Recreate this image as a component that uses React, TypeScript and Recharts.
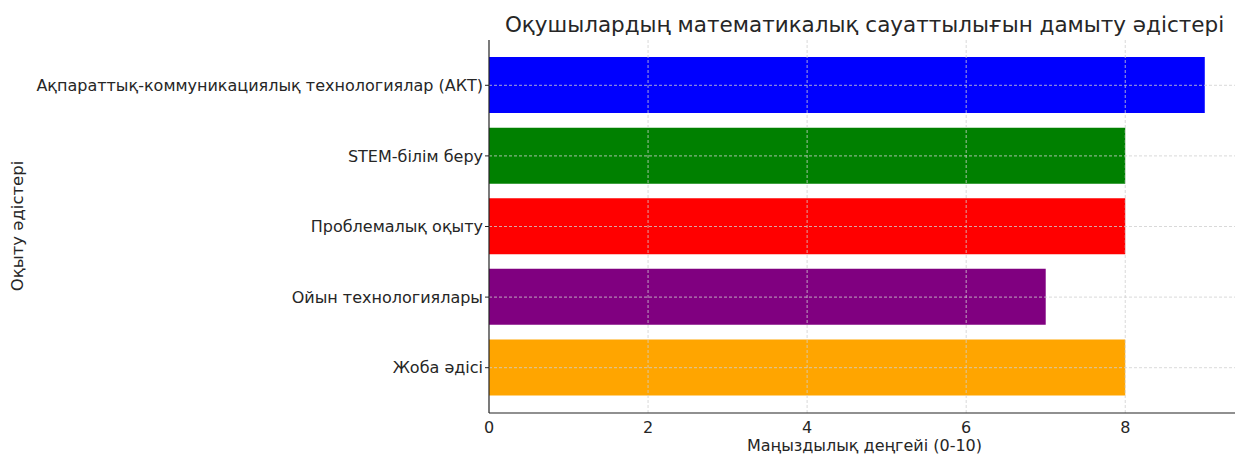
import React from 'react';
import { BarChart, Bar, XAxis, YAxis, Cell, ReferenceLine } from 'recharts';

const categories = [
  'Ақпараттық-коммуникациялық технологиялар (АКТ)',
  'STEM-білім беру',
  'Проблемалық оқыту',
  'Ойын технологиялары',
  'Жоба әдісі',
];
const values = [9, 8, 8, 7, 8];
const colors = ['#0000ff', '#008000', '#ff0000', '#800080', '#ffa500'];
const xTicks = [0, 2, 4, 6, 8];
const title = 'Оқушылардың математикалық сауаттылығын дамыту әдістері';
const xLabel = 'Маңыздылық деңгейі (0-10)';
const yLabel = 'Оқыту әдістері';

const data = categories.map((name, i) => ({ name, value: values[i] }));

const FONT = '"DejaVu Sans", sans-serif';
const TEXT = '#262626';
const GRID = '#cfcfcf';

export default function App() {
  return (
    <div style={{ position: 'fixed', left: 0, top: 0, width: 1235, height: 457, background: '#fff', fontFamily: FONT, overflow: 'hidden' }}>
      <div style={{ position: 'absolute', left: 489, width: 751, top: 12, textAlign: 'center', fontSize: 21.5, color: TEXT, whiteSpace: 'nowrap', lineHeight: '26px' }}>
        {title}
      </div>
      <div style={{ position: 'absolute', left: 18, top: 226, transform: 'translate(-50%, -50%) rotate(-90deg)', fontSize: 16.5, color: TEXT, whiteSpace: 'nowrap', lineHeight: '20px' }}>
        {yLabel}
      </div>
      <div style={{ position: 'absolute', left: 489, width: 751, top: 436, textAlign: 'center', fontSize: 16, color: TEXT, whiteSpace: 'nowrap', lineHeight: '20px' }}>
        {xLabel}
      </div>
      <div style={{ position: 'absolute', left: 0, top: 0 }}>
        <BarChart
          width={1235}
          height={457}
          data={data}
          layout="vertical"
          margin={{ top: 40, right: 0, bottom: 0, left: 0 }}
          barCategoryGap="10%"
        >
          <XAxis
            type="number"
            dataKey="value"
            domain={[0, 9.38]}
            ticks={xTicks}
            allowDataOverflow
            tick={{ fill: TEXT, fontSize: 16, fontFamily: FONT }}
            tickLine={false}
            axisLine={{ stroke: '#222', strokeWidth: 1.2 }}
            tickMargin={3}
            height={44}
          />
          <YAxis
            type="category"
            dataKey="name"
            width={489}
            padding={{ top: 10, bottom: 10 }}
            tick={{ fill: TEXT, fontSize: 16, fontFamily: FONT }}
            tickSize={4}
            tickLine={{ stroke: '#222' }}
            axisLine={{ stroke: '#222', strokeWidth: 1.2 }}
            tickMargin={2}
            interval={0}
          />
          <Bar dataKey="value" isAnimationActive={false}>
            {data.map((d, i) => (
              <Cell key={d.name} fill={colors[i]} />
            ))}
          </Bar>
          {xTicks.filter((t) => t > 0).map((t) => (
            <ReferenceLine key={'x' + t} x={t} stroke={GRID} strokeDasharray="3 2" strokeWidth={0.8} />
          ))}
          {categories.map((c) => (
            <ReferenceLine key={'y' + c} y={c} stroke={GRID} strokeDasharray="3 2" strokeWidth={0.8} />
          ))}
        </BarChart>
      </div>
    </div>
  );
}
